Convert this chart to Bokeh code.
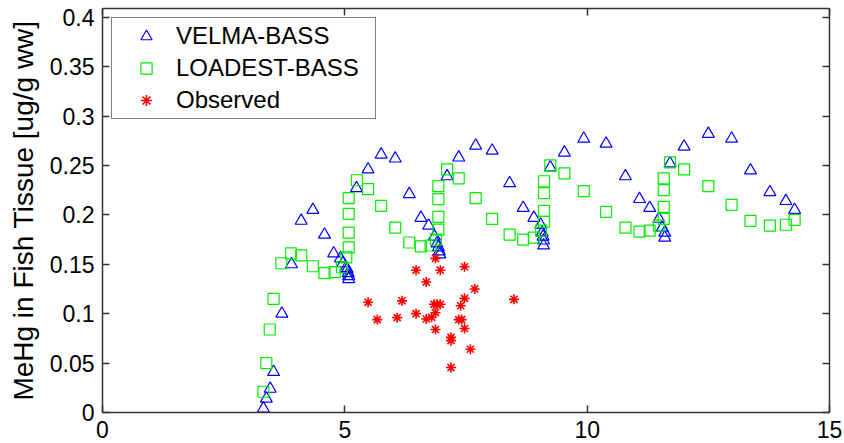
from bokeh.plotting import figure
from bokeh.models import (Range1d, FixedTicker, LinearAxis, Legend, LegendItem,
                          CustomJSTickFormatter, CustomLabelingPolicy)
from bokeh.embed import file_html
from bokeh.resources import INLINE

# ---- data ----
velma_x = [3.32, 3.38, 3.46, 3.53, 3.70, 3.90, 4.10, 4.34, 4.58, 4.77, 4.91, 4.96, 5.02,
           5.05, 5.07, 5.08, 5.08, 5.24, 5.48, 5.75, 6.04, 6.33, 6.57, 6.73, 6.85,
           6.90, 6.93, 6.95, 6.96, 7.11, 7.35, 7.70, 8.04, 8.40, 8.68, 8.90, 9.04,
           9.07, 9.09, 9.10, 9.10, 9.24, 9.53, 9.93, 10.39, 10.79, 11.08, 11.29, 11.48,
           11.55, 11.60, 11.60, 11.71, 12.00, 12.50, 12.98, 13.37, 13.77, 14.10, 14.28]
velma_y = [0.004, 0.014, 0.024, 0.041, 0.100, 0.150, 0.194, 0.205, 0.180, 0.161, 0.156, 0.151, 0.146,
           0.145, 0.141, 0.138, 0.135, 0.227, 0.246, 0.261, 0.257, 0.221, 0.197, 0.189, 0.178,
           0.171, 0.167, 0.163, 0.160, 0.239, 0.258, 0.270, 0.265, 0.232, 0.207, 0.197, 0.190,
           0.182, 0.178, 0.174, 0.169, 0.248, 0.263, 0.277, 0.272, 0.239, 0.216, 0.207, 0.196,
           0.187, 0.182, 0.177, 0.252, 0.269, 0.282, 0.277, 0.245, 0.223, 0.214, 0.205]

loadest_x = [3.32, 3.38, 3.45, 3.53, 3.69, 3.89, 4.10, 4.34, 4.58, 4.79, 4.94, 5.03, 5.08,
             5.08, 5.08, 5.08, 5.25, 5.48, 5.75, 6.04, 6.33, 6.57, 6.77, 6.88, 6.93,
             6.93, 6.93, 6.93, 7.11, 7.35, 7.70, 8.04, 8.40, 8.68, 8.90, 9.05, 9.11,
             9.11, 9.11, 9.11, 9.24, 9.53, 9.93, 10.39, 10.79, 11.08, 11.29, 11.48, 11.58,
             11.58, 11.58, 11.58, 11.71, 12.00, 12.50, 12.98, 13.37, 13.77, 14.10, 14.28]
loadest_y = [0.021, 0.050, 0.084, 0.115, 0.151, 0.161, 0.159, 0.148, 0.141, 0.142, 0.147, 0.157, 0.167,
             0.182, 0.201, 0.217, 0.235, 0.226, 0.209, 0.187, 0.172, 0.168, 0.169, 0.175, 0.185,
             0.198, 0.216, 0.229, 0.246, 0.237, 0.217, 0.196, 0.180, 0.175, 0.177, 0.184, 0.193,
             0.204, 0.222, 0.234, 0.250, 0.242, 0.224, 0.203, 0.187, 0.183, 0.184, 0.189, 0.196,
             0.208, 0.225, 0.237, 0.253, 0.246, 0.229, 0.210, 0.194, 0.189, 0.190, 0.195]

obs_x = [6.87, 6.47, 6.97, 7.47, 6.68, 7.68, 5.48, 6.18, 7.47, 8.49, 6.84, 6.90, 6.97, 7.39,
         6.47, 6.87, 5.67, 6.08, 6.68, 6.79, 7.35, 7.41, 6.87, 7.47, 7.19, 7.19, 7.59, 7.19]
obs_y = [0.156, 0.144, 0.144, 0.1475, 0.132, 0.125, 0.1115, 0.113, 0.1155, 0.1145, 0.1095, 0.1095, 0.1095, 0.108,
         0.100, 0.101, 0.094, 0.096, 0.0946, 0.0963, 0.094, 0.094, 0.084, 0.085, 0.076, 0.0727, 0.064, 0.0455]

x_ticks = [0, 5, 10, 15]
y_ticks = [0, 0.05, 0.1, 0.15, 0.2, 0.25, 0.3, 0.35, 0.4]
labels = ["VELMA-BASS", "LOADEST-BASS", "Observed"]
y_label = "MeHg in Fish Tissue [ug/g ww]"

FONT = "Liberation Sans"
AXC = "#333333"

p = figure(width=844, height=443, output_backend="svg", toolbar_location=None,
           x_range=Range1d(0, 15), y_range=Range1d(0, 0.4088),
           min_border_left=102, min_border_right=15, min_border_top=8, min_border_bottom=31)
p.outline_line_color = None
p.xgrid.visible = False
p.ygrid.visible = False
p.background_fill_color = "white"
p.border_fill_color = "white"

fmt = CustomJSTickFormatter(code="return tick.toString();")
blank_fmt = CustomJSTickFormatter(code="return '';")

def style_axis(ax, ticks, show_labels):
    ax.ticker = FixedTicker(ticks=ticks)
    ax.axis_line_color = AXC
    ax.axis_line_width = 1.5
    ax.major_tick_line_color = AXC
    ax.major_tick_line_width = 1.5
    ax.major_tick_in = 7
    ax.major_tick_out = 0
    ax.minor_tick_line_color = None
    ax.major_label_text_font = FONT
    ax.major_label_text_color = "black"
    if show_labels:
        ax.formatter = fmt
        ax.major_label_text_font_size = "23px"
    else:
        ax.formatter = blank_fmt
        ax.major_label_text_font_size = "0px"
        ax.major_label_standoff = 0
        ax.major_label_policy = CustomLabelingPolicy(code="return [];")

xa = p.xaxis[0]
ya = p.yaxis[0]
style_axis(xa, x_ticks, True)
style_axis(ya, y_ticks, True)
xa.major_label_standoff = 8
ya.major_label_standoff = 8
ya.axis_label = y_label
ya.axis_label_text_font = FONT
ya.axis_label_text_font_size = "28px"
ya.axis_label_text_font_style = "normal"
ya.axis_label_text_color = "black"
ya.axis_label_standoff = 8

top = LinearAxis()
right = LinearAxis()
style_axis(top, x_ticks, False)
style_axis(right, y_ticks, False)
p.add_layout(top, "above")
p.add_layout(right, "right")

r1 = p.scatter(velma_x, velma_y, marker="triangle", size=12, fill_color=None,
               line_color="#0000ff", line_width=1.2)
r2 = p.scatter(loadest_x, loadest_y, marker="square", size=11, fill_color=None,
               line_color="#00ee00", line_width=1.2)
r3 = p.scatter(obs_x, obs_y, marker="asterisk", size=10,
               line_color="#ff0000", line_width=1.6)

legend = Legend(items=[LegendItem(label=labels[0], renderers=[r1]),
                       LegendItem(label=labels[1], renderers=[r2]),
                       LegendItem(label=labels[2], renderers=[r3])],
                location="top_left")
legend.margin = 9
legend.padding = 4
legend.spacing = 4
legend.glyph_width = 60
legend.glyph_height = 28
legend.label_height = 28
legend.label_width = 195
legend.label_standoff = 0
legend.label_text_font = FONT
legend.label_text_font_size = "24px"
legend.label_text_color = "black"
legend.border_line_color = "black"
legend.border_line_width = 1
legend.background_fill_color = "white"
legend.background_fill_alpha = 1
p.add_layout(legend, "center")

open("out.html", "w").write(file_html(p, INLINE))
